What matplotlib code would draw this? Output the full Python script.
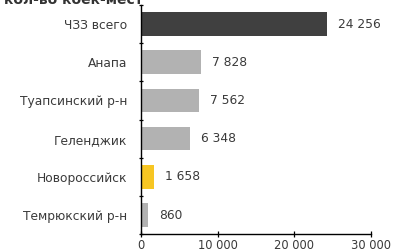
import matplotlib
matplotlib.use("Agg")
import matplotlib.pyplot as plt
from matplotlib.ticker import FuncFormatter, FixedLocator

plt.rcParams['font.family'] = ['DejaVu Sans']

categories = ['ЧЗЗ всего', 'Анапа', 'Туапсинский р-н', 'Геленджик',
              'Новороссийск', 'Темрюкский р-н']
values = [24256, 7828, 7562, 6348, 1658, 860]
colors = ['#404040', '#b2b2b2', '#b2b2b2', '#b2b2b2', '#f7c623', '#b2b2b2']
xticks = [0, 10000, 20000, 30000]

fig = plt.figure(figsize=(3.95, 2.52), dpi=100)
ax = fig.add_axes([0.357, 0.071, 0.582, 0.909])

ypos = list(range(len(categories)))
ax.barh(ypos, values, height=0.62, color=colors)
ax.set_ylim(len(categories) - 0.5, -0.5)
ax.set_xlim(0, 30000)

def fmt(v):
    return f"{int(v):,}".replace(",", " ")

fs = 8.8
for y, v in zip(ypos, values):
    ax.annotate(fmt(v), (v, y), xytext=(8, 0), textcoords='offset points',
                va='center', ha='left', fontsize=fs, color='#3a3a3a')

ax.set_yticks(ypos)
ax.set_yticklabels(categories, fontsize=fs, color='#3a3a3a')
ax.yaxis.set_minor_locator(FixedLocator([i - 0.5 for i in range(len(categories) + 1)]))
ax.tick_params(axis='y', which='major', length=0, pad=10)
ax.tick_params(axis='y', which='minor', length=3, direction='inout', width=0.9)

ax.set_xticks(xticks)
ax.xaxis.set_major_formatter(FuncFormatter(lambda v, p: fmt(v)))
ax.tick_params(axis='x', length=4, direction='inout', width=0.9, labelsize=8.3,
               pad=1.5, labelcolor='#3a3a3a')

for s in ['top', 'right']:
    ax.spines[s].set_visible(False)
ax.spines['left'].set_linewidth(1.0)
ax.spines['bottom'].set_linewidth(1.0)

fig.text(0.01, 1.0, 'кол-во коек-мест', fontsize=10, fontweight='bold',
         color='#333333', va='center', ha='left')

fig.savefig('out.png', dpi=100)
